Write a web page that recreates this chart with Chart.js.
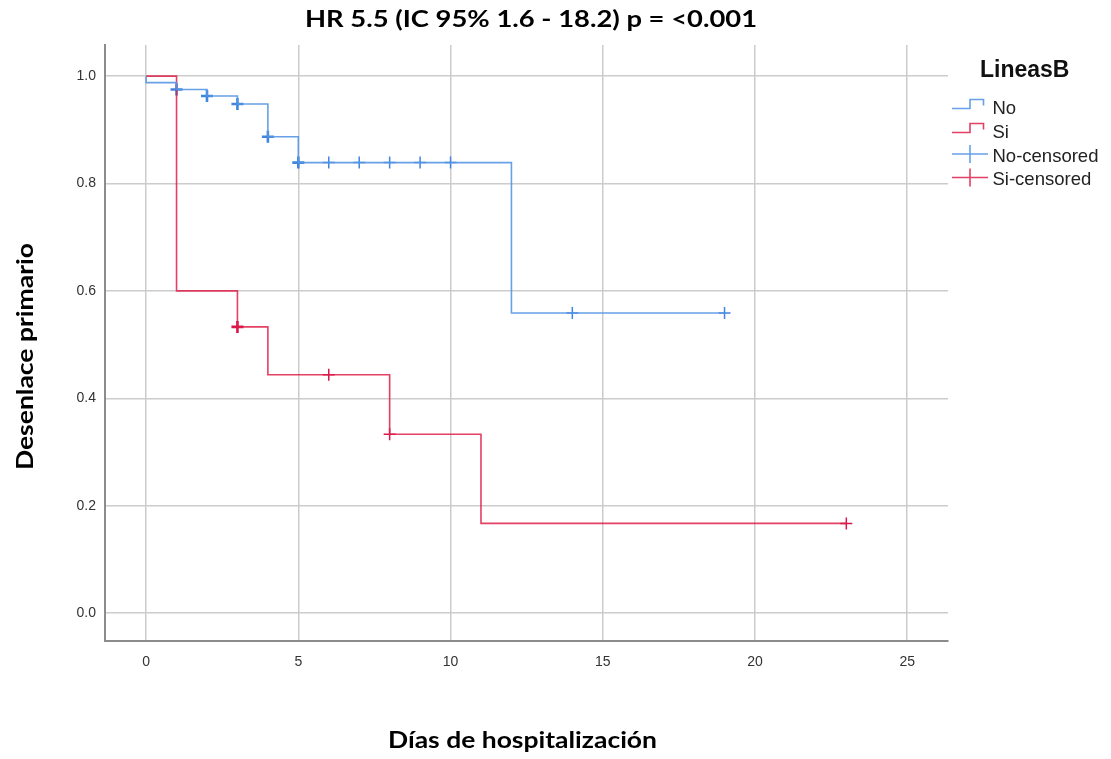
<!DOCTYPE html>
<html>
<head>
<meta charset="utf-8">
<script src="https://cdn.jsdelivr.net/npm/chart.js@4.4.1/dist/chart.umd.min.js"></script>
<style>
  html, body { margin: 0; padding: 0; background: #fff; }
  #wrap { width: 1111px; height: 759px; position: relative; }
</style>
</head>
<body>
<div id="wrap"><canvas id="km"></canvas></div>
<script>
// Kaplan-Meier estimates by group (LineasB)
const noTimes = [0, 0, 1, 2, 3, 4, 5, 12, 19];
const noSurv  = [1.0, 0.988, 0.975, 0.963, 0.948, 0.887, 0.839, 0.559, 0.559];
const siTimes = [0, 1, 3, 4, 8, 11, 23];
const siSurv  = [1.0, 0.6, 0.533, 0.444, 0.333, 0.167, 0.167];

// Censored observations (count > 1 means tied censoring at that time)
const noCensTimes = [1, 2, 3, 4, 5, 6, 7, 8, 9, 10, 14, 19];
const noCensSurv  = [0.975, 0.963, 0.948, 0.887, 0.839, 0.839, 0.839, 0.839, 0.839, 0.839, 0.559, 0.559];
const noCensCount = [2, 2, 2, 2, 2, 1, 1, 1, 1, 1, 1, 1];
const siCensTimes = [3, 6, 8, 23];
const siCensSurv  = [0.533, 0.444, 0.333, 0.167];
const siCensCount = [2, 1, 1, 1];

const xTicks = [0, 5, 10, 15, 20, 25];
const yTicks = [0, 0.2, 0.4, 0.6, 0.8, 1.0];

const groupNames = ['No', 'Si', 'No-censored', 'Si-censored'];
const legendTitle = 'LineasB';
const chartTitle = 'HR 5.5 (IC 95% 1.6 - 18.2) p = <0.001';
const xTitle = 'Días de hospitalización';
const yTitle = 'Desenlace primario';

const BLUE = 'rgba(86,150,228,0.9)';
const BLUE_MARK = '#3f86de';
const RED = 'rgba(222,30,72,0.85)';
const RED_MARK = '#d8174a';

const TITLE_FONT = 'bold 23.5px Lato, "Open Sans", sans-serif';
const TICK_FONT = { family: '"Liberation Sans", Arial, sans-serif', size: 14 };

const toXY = (xs, ys) => xs.map((x, i) => ({ x: x, y: ys[i] }));

// Draws centred text stretched horizontally to a given width
function fitText(ctx, text, width) {
  const w = ctx.measureText(text).width;
  const k = width / w;
  ctx.save();
  ctx.scale(k, 1);
  ctx.fillText(text, 0, 0);
  ctx.restore();
}

// Chart title and axis titles
const titles = {
  id: 'titles',
  afterDraw(chart) {
    const ctx = chart.ctx;
    ctx.save();
    ctx.fillStyle = '#000';
    ctx.textAlign = 'center';
    ctx.textBaseline = 'alphabetic';
    ctx.font = TITLE_FONT;

    ctx.save();
    ctx.translate(531, 27);
    fitText(ctx, chartTitle, 452);
    ctx.restore();

    ctx.save();
    ctx.translate(522.5, 748);
    fitText(ctx, xTitle, 269);
    ctx.restore();

    ctx.save();
    ctx.translate(33, 356.5);
    ctx.rotate(-Math.PI / 2);
    fitText(ctx, yTitle, 227);
    ctx.restore();

    ctx.restore();
  }
};

// Legend drawn at the right of the plot
const sideLegend = {
  id: 'sideLegend',
  afterDraw(chart) {
    const ctx = chart.ctx;
    ctx.save();
    ctx.textAlign = 'left';
    ctx.textBaseline = 'alphabetic';
    ctx.fillStyle = '#111';
    ctx.font = 'bold 23px "Liberation Sans", Arial, sans-serif';
    ctx.fillText(legendTitle, 980, 77);

    const baselines = [113.5, 137.5, 161.5, 185];
    const colors = [BLUE, RED, BLUE, RED];
    ctx.lineWidth = 1.6;
    baselines.forEach((b, i) => {
      ctx.strokeStyle = colors[i];
      ctx.beginPath();
      if (i < 2) {
        ctx.moveTo(952, b - 5);
        ctx.lineTo(970, b - 5);
        ctx.lineTo(970, b - 14);
        ctx.lineTo(983.5, b - 14);
        ctx.lineTo(983.5, b - 8);
      } else {
        const y = b - 7.5;
        ctx.moveTo(952, y);
        ctx.lineTo(988, y);
        ctx.moveTo(970, y - 9);
        ctx.lineTo(970, y + 9);
      }
      ctx.stroke();
      ctx.fillStyle = '#222';
      ctx.font = '18.5px "Liberation Sans", Arial, sans-serif';
      ctx.fillText(groupNames[i], 992.5, b);
    });
    ctx.restore();
  }
};

new Chart(document.getElementById('km'), {
  type: 'line',
  data: {
    datasets: [
      {
        label: groupNames[0],
        data: toXY(noTimes, noSurv),
        stepped: 'before',
        borderColor: BLUE,
        borderWidth: 1.6,
        pointRadius: 0,
        fill: false
      },
      {
        label: groupNames[1],
        data: toXY(siTimes, siSurv),
        stepped: 'before',
        borderColor: RED,
        borderWidth: 1.6,
        pointRadius: 0,
        fill: false
      },
      {
        label: groupNames[2],
        data: toXY(noCensTimes, noCensSurv),
        showLine: false,
        pointStyle: 'cross',
        pointRadius: 6,
        pointBorderColor: BLUE_MARK,
        pointBorderWidth: noCensCount.map(c => c > 1 ? 2.6 : 1.5),
        pointHoverRadius: 6
      },
      {
        label: groupNames[3],
        data: toXY(siCensTimes, siCensSurv),
        showLine: false,
        pointStyle: 'cross',
        pointRadius: 6,
        pointBorderColor: RED_MARK,
        pointBorderWidth: siCensCount.map(c => c > 1 ? 2.6 : 1.5),
        pointHoverRadius: 6
      }
    ]
  },
  options: {
    responsive: true,
    maintainAspectRatio: false,
    animation: false,
    devicePixelRatio: 1,
    layout: { padding: { left: 0, right: 163, top: 45, bottom: 0 } },
    plugins: {
      legend: { display: false },
      tooltip: { enabled: false },
      title: { display: false }
    },
    scales: {
      x: {
        type: 'linear',
        min: -1.35,
        max: 26.34,
        afterBuildTicks: (s) => { s.ticks = xTicks.map(v => ({ value: v })); },
        afterFit: (s) => { s.height = 118; },
        grid: { color: '#cccccc', lineWidth: 1.5, drawTicks: false },
        border: { color: '#8c8c8c', width: 2 },
        ticks: {
          padding: 13,
          color: '#333',
          font: TICK_FONT,
          callback: (v) => String(v)
        }
      },
      y: {
        type: 'linear',
        min: -0.052,
        max: 1.058,
        afterBuildTicks: (s) => { s.ticks = yTicks.map(v => ({ value: v })); },
        afterFit: (s) => { s.width = 105; },
        grid: { color: '#cccccc', lineWidth: 1.5, drawTicks: false },
        border: { color: '#8c8c8c', width: 2 },
        ticks: {
          padding: 9,
          color: '#333',
          font: TICK_FONT,
          callback: (v) => v.toFixed(1)
        }
      }
    }
  },
  plugins: [titles, sideLegend]
});
</script>
</body>
</html>
